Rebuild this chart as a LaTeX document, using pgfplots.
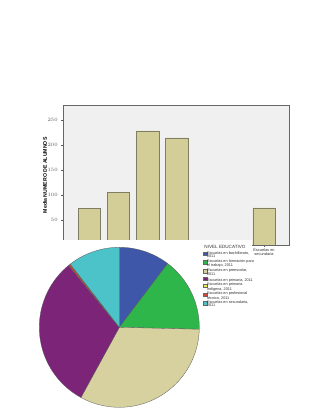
\documentclass[border=0pt]{standalone}
\usepackage{pgfplots}
\pgfplotsset{compat=1.18}
\usepackage{fontspec}
\setmainfont{Liberation Sans}
\definecolor{bgc}{HTML}{F0F0F0}
\definecolor{barf}{HTML}{D3CE97}
\definecolor{bare}{HTML}{7F7D62}
\definecolor{cblue}{HTML}{3E57A8}
\definecolor{cgreen}{HTML}{2FB64B}
\definecolor{ctan}{HTML}{D6D19E}
\definecolor{cpurple}{HTML}{7C2478}
\definecolor{cyellow}{HTML}{EDEC5A}
\definecolor{cred}{HTML}{D8452F}
\definecolor{ccyan}{HTML}{4BC3C9}
% pie shares (percent)
\def\vA{10.33}\def\vB{15.06}\def\vC{32.58}\def\vD{31.14}\def\vE{0.05}\def\vF{0.33}\def\vG{10.51}
\pgfmathsetmacro\aA{90}
\pgfmathsetmacro\aB{\aA-3.6*\vA}
\pgfmathsetmacro\aC{\aB-3.6*\vB}
\pgfmathsetmacro\aD{\aC-3.6*\vC}
\pgfmathsetmacro\aE{\aD-3.6*\vD}
\pgfmathsetmacro\aF{\aE-3.6*\vE}
\pgfmathsetmacro\aG{\aF-3.6*\vF}
\pgfmathsetmacro\aH{\aG-3.6*\vG}
\begin{document}
\begin{tikzpicture}
\path[use as bounding box, fill=white] (0pt,0pt) rectangle (320pt,414pt);
\begin{axis}[
  at={(63.3pt,169pt)}, anchor=south west,
  width=226pt, height=139.3pt, scale only axis,
  xmin=0.1, xmax=7.87, ymin=0, ymax=278.5,
  axis background/.style={fill=bgc},
  axis line style={draw=gray!80!black, line width=0.5pt},
  ybar, bar width=0.77,
  ytick={50,100,150,200,250},
  ytick pos=left, xtick pos=bottom,
  tick align=outside, major tick length=2pt,
  tick style={gray!70!black, line width=0.3pt},
  yticklabel style={font=\fontsize{4.2}{4.2}\selectfont, text=gray!70!black},
  xtick={7}, xticklabels={{Escuelas en\\secundaria,\\2011}},
  xticklabel style={font=\fontsize{3.9}{4.1}\selectfont, align=center, text=gray!40!black, inner sep=1pt},
  ylabel={Media NUMERO DE ALUMNOS},
  ylabel style={at={(axis description cs:-0.081,0.5)}, anchor=center, font=\fontsize{5.2}{5.2}\bfseries},
]
\addplot[fill=barf, draw=bare, line width=0.6pt] coordinates {(1,72.8) (2,104.8) (3,228) (4,214) (7,74)};
\end{axis}
\fill[white] (0pt,0pt) rectangle (252pt,174pt);
\begin{axis}[
  at={(119.3pt,86.7pt)}, anchor=center,
  width=160pt, height=160pt, scale only axis,
  xmin=-1, xmax=1, ymin=-1, ymax=1,
  hide axis, clip=false,
  legend style={at={(160.7pt,158.2pt)}, anchor=north west, draw=none, fill=none,
    font=\fontsize{3.8}{3.4}\selectfont, text=gray!40!black,
    nodes={align=left, inner sep=0.1pt}, row sep=0pt, column sep=0pt},
  legend cell align=left,
  every axis plot/.append style={draw=black!65, line width=0.3pt},
  legend image code/.code={\draw[#1, draw=black!60, line width=0.3pt] (0pt,-0.2pt) rectangle (3.4pt,3.2pt);},
]
\addplot[fill=cblue, domain=\aB:\aA, samples=40] ({cos(x)},{sin(x)}) -- (axis cs:0,0) -- cycle;
\addlegendentry{Escuelas en bachillerato,\\2011}
\addplot[fill=cgreen, domain=\aC:\aB, samples=40] ({cos(x)},{sin(x)}) -- (axis cs:0,0) -- cycle;
\addlegendentry{Escuelas en formación para\\el trabajo, 2011}
\addplot[fill=ctan, domain=\aD:\aC, samples=60] ({cos(x)},{sin(x)}) -- (axis cs:0,0) -- cycle;
\addlegendentry{Escuelas en preescolar,\\2011}
\addplot[fill=cpurple, domain=\aE:\aD, samples=60] ({cos(x)},{sin(x)}) -- (axis cs:0,0) -- cycle;
\addlegendentry{Escuelas en primaria, 2011}
\addplot[fill=cyellow, domain=\aF:\aE, samples=2] ({cos(x)},{sin(x)}) -- (axis cs:0,0) -- cycle;
\addlegendentry{Escuelas en primaria\\indígena, 2011}
\addplot[fill=cred, domain=\aG:\aF, samples=3] ({cos(x)},{sin(x)}) -- (axis cs:0,0) -- cycle;
\addlegendentry{Escuelas en profesional\\técnico, 2011}
\addplot[fill=ccyan, domain=\aH:\aG, samples=40] ({cos(x)},{sin(x)}) -- (axis cs:0,0) -- cycle;
\addlegendentry{Escuelas en secundaria,\\2011}
\end{axis}
\node[font=\fontsize{4.6}{4.6}\selectfont, text=gray!40!black] at (225pt,167.3pt) {NIVEL EDUCATIVO};
\end{tikzpicture}
\end{document}
